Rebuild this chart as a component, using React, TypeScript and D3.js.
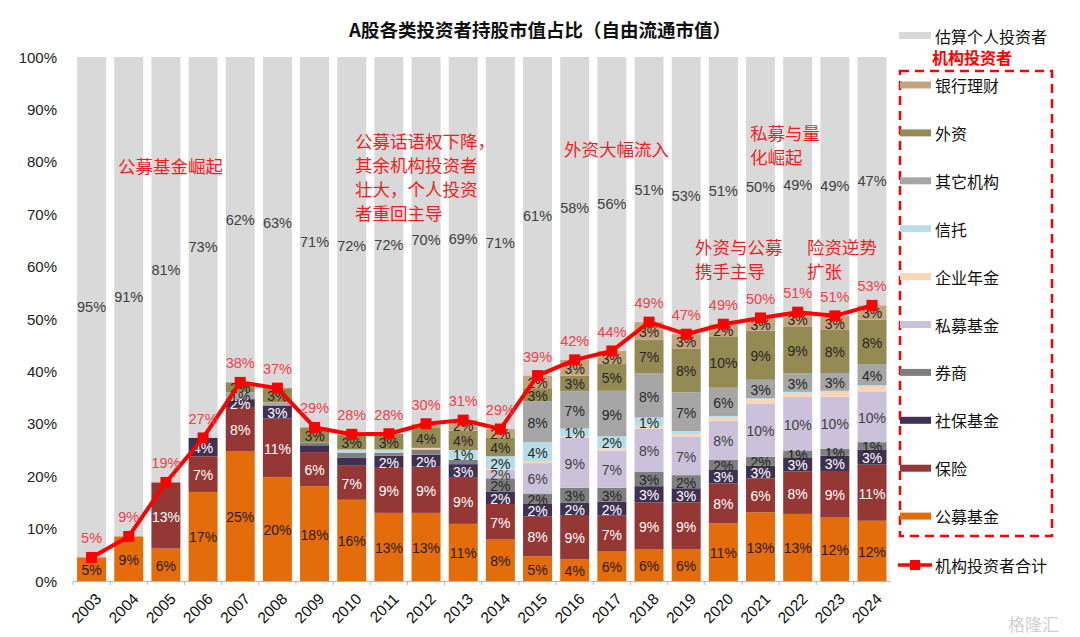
import { line, scaleBand, scaleLinear, stack } from "d3";

// 年份
const years = [
    "2003", "2004", "2005", "2006", "2007", "2008", "2009", "2010", "2011", "2012", "2013",
    "2014", "2015", "2016", "2017", "2018", "2019", "2020", "2021", "2022", "2023", "2024",
];

// 各类机构持股占比 (%)，按堆叠顺序从下到上
const fund = [4.5, 8.5, 6.2, 17.0, 24.7, 19.8, 18.1, 15.5, 13.0, 13.0, 10.9, 7.9, 4.7, 4.1, 5.6, 6.1, 6.1, 11.0, 13.1, 12.8, 12.1, 11.5];
const insurance = [0, 0, 12.6, 6.8, 8.5, 11.2, 6.5, 6.5, 8.6, 8.8, 8.8, 6.8, 7.6, 8.5, 6.9, 8.9, 8.9, 7.6, 6.5, 8.1, 8.9, 10.7];
const socialSecurity = [0, 0, 0, 3.5, 1.5, 2.5, 1.3, 1.5, 2.3, 2.3, 2.6, 2.4, 2.4, 2.3, 2.6, 3.1, 2.7, 2.7, 2.4, 2.7, 2.9, 2.9];
const broker = [0, 0, 0, 0, 0, 0, 0.5, 1.0, 0.6, 1.0, 0.8, 2.5, 2.0, 2.9, 2.7, 2.7, 2.5, 1.8, 1.7, 1.3, 1.3, 1.4];
const privateFund = [0, 0, 0, 0, 0, 0, 0, 0, 0, 0, 0, 1.6, 5.8, 9.5, 7.1, 8.3, 7.3, 7.5, 10.2, 10.2, 10.0, 9.7];
const pension = [0, 0, 0, 0, 0, 0, 0, 0, 0, 0.3, 0.2, 0.2, 0.4, 0.3, 0.4, 0.5, 0.5, 0.6, 0.8, 0.8, 0.9, 1.0];
const trust = [0, 0, 0, 0, 0, 0, 0, 0.6, 0.6, 0, 1.7, 2.4, 3.6, 1.5, 2.3, 1.6, 0.6, 0.3, 0.2, 0.2, 0.2, 0.2];
const otherInst = [0, 0, 0, 0, 1.3, 0.6, 0, 0, 0, 0, 0, 0, 7.8, 7.1, 8.7, 8.4, 7.4, 5.4, 3.5, 3.5, 3.4, 4.0];
const foreign = [0, 0, 0, 0, 1.9, 2.7, 2.9, 2.9, 3.0, 3.8, 3.7, 3.5, 2.5, 3.0, 5.1, 6.5, 8.4, 9.8, 9.4, 9.0, 8.2, 8.5];
const bankWm = [0, 0, 0, 0, 0, 0, 0, 0, 0, 0.8, 2.0, 1.7, 2.4, 3.0, 2.5, 3.3, 2.7, 2.3, 2.4, 2.7, 2.7, 2.7];

// 图上显示的数值标签 (null = 不显示)
const _ = null;
const fundLabels = [5, 9, 6, 17, 25, 20, 18, 16, 13, 13, 11, 8, 5, 4, 6, 6, 6, 11, 13, 13, 12, 12];
const insuranceLabels = [_, _, 13, 7, 8, 11, 6, 7, 9, 9, 9, 7, 8, 9, 7, 9, 9, 8, 6, 8, 9, 11];
const socialLabels = [_, _, _, 4, 2, 3, _, _, 2, 2, 3, 2, 2, 2, 2, 3, 3, 3, 3, 3, 3, 3];
const brokerLabels = [_, _, _, _, _, _, _, _, _, _, _, 2, 2, 3, 3, 3, 2, 2, 2, 1, 1, 1];
const privateLabels = [_, _, _, _, _, _, _, _, _, _, _, 2, 6, 9, 7, 8, 7, 8, 10, 10, 10, 10];
const pensionLabels = [_, _, _, _, _, _, _, _, _, _, _, _, _, _, _, _, _, _, _, _, _, _];
const trustLabels = [_, _, _, _, _, _, _, _, _, _, 1, 2, 4, 1, 2, 1, _, _, _, _, _, _];
const otherLabels = [_, _, _, _, 1, _, _, _, _, _, _, _, 8, 7, 9, 8, 7, 6, 3, 3, 3, 4];
const foreignLabels = [_, _, _, _, 2, 3, 3, 3, 3, 4, 4, 4, 3, 3, 5, 7, 8, 10, 9, 9, 8, 8];
const bankLabels = [_, _, _, _, _, _, _, _, _, _, 2, 2, 2, 3, 3, 3, 3, 2, 3, 3, 3, 3];
const personalLabels = [95, 91, 81, 73, 62, 63, 71, 72, 72, 70, 69, 71, 61, 58, 56, 51, 53, 51, 50, 49, 49, 47];
const totalLabels = [5, 9, 19, 27, 38, 37, 29, 28, 28, 30, 31, 29, 39, 42, 44, 49, 47, 49, 50, 51, 51, 53];

const yTicks = [0, 10, 20, 30, 40, 50, 60, 70, 80, 90, 100];

const series = [
    { key: "公募基金", values: fund, labels: fundLabels, color: "#E46C0A", text: "#2b1a0c" },
    { key: "保险", values: insurance, labels: insuranceLabels, color: "#953735", text: "#ffffff" },
    { key: "社保基金", values: socialSecurity, labels: socialLabels, color: "#403152", text: "#ffffff" },
    { key: "券商", values: broker, labels: brokerLabels, color: "#7F7F7F", text: "#262626" },
    { key: "私募基金", values: privateFund, labels: privateLabels, color: "#CCC1DA", text: "#404040" },
    { key: "企业年金", values: pension, labels: pensionLabels, color: "#FCD5B5", text: "#262626" },
    { key: "信托", values: trust, labels: trustLabels, color: "#B7DEE8", text: "#262626" },
    { key: "其它机构", values: otherInst, labels: otherLabels, color: "#A6A6A6", text: "#262626" },
    { key: "外资", values: foreign, labels: foreignLabels, color: "#948A54", text: "#262626" },
    { key: "银行理财", values: bankWm, labels: bankLabels, color: "#C4A47C", text: "#262626" },
];

const GRAY = "#D9D9D9";
const RED = "#FF0000";
const FONT = "'Liberation Sans', Arial, sans-serif";
const CJK = "'Noto Sans CJK SC', sans-serif";

function App() {
    const W = 1080;
    const H = 637;

    const x = scaleBand().domain(years).range([73, 890.6]).paddingInner(0.22).paddingOuter(0.11);
    const y = scaleLinear().domain([0, 100]).range([581, 57]);

    // 堆叠数据
    const rows = years.map((yr, i) => {
        const r: any = { year: yr };
        series.forEach((s) => (r[s.key] = s.values[i]));
        return r;
    });
    const stacked = stack<any>().keys(series.map((s) => s.key))(rows);
    const totals = years.map((_, i) => series.reduce((acc, s) => acc + s.values[i], 0));

    const bw = x.bandwidth();
    const cx = (yr: string) => (x(yr) as number) + bw / 2;

    const totalLine = line<number>()
        .x((_, i) => cx(years[i]))
        .y((d) => y(d));

    // 图例
    const legendItems = ["银行理财", "外资", "其它机构", "信托", "企业年金", "私募基金", "券商", "社保基金", "保险", "公募基金"];
    const legendY0 = 85;
    const legendStep = 47.9;

    return (
        <svg width={W} height={H} style={{ position: "absolute", left: 0, top: 0, background: "#fff" }}>
            {/* 标题 */}
            <text x={540} y={29} textAnchor="middle" dominantBaseline="central" fontFamily={CJK} fontWeight="bold" fontSize={18.5} fill="#111">
                A股各类投资者持股市值占比（自由流通市值）
            </text>

            {/* y 轴刻度 */}
            {yTicks.map((t) => (
                <text key={t} x={57} y={y(t)} textAnchor="end" dominantBaseline="central" fontFamily={FONT} fontSize={15} fill="#222">
                    {t}%
                </text>
            ))}

            {/* 个人投资者 (灰色背景柱) */}
            {years.map((yr, i) => (
                <rect key={"p" + yr} x={x(yr)} y={y(100)} width={bw} height={y(totals[i]) - y(100)} fill={GRAY} />
            ))}

            {/* 机构堆叠柱 */}
            {stacked.map((layer, si) => (
                <g key={layer.key}>
                    {layer.map((d, i) => (
                        <rect
                            key={years[i]}
                            x={x(years[i])}
                            y={y(d[1])}
                            width={bw}
                            height={Math.max(0, y(d[0]) - y(d[1]))}
                            fill={series[si].color}
                        />
                    ))}
                </g>
            ))}

            {/* x 轴 */}
            <line x1={73} x2={890.6} y1={581.5} y2={581.5} stroke="#A9B8CC" strokeWidth={1} />
            {years.map((yr) => (
                <line key={"t" + yr} x1={(x(yr) as number) - x.step() * 0.11} x2={(x(yr) as number) - x.step() * 0.11} y1={581.5} y2={585} stroke="#A9B8CC" />
            ))}
            {years.map((yr) => (
                <text
                    key={"xl" + yr}
                    transform={`translate(${cx(yr) + 7},${596}) rotate(-45)`}
                    textAnchor="end"
                    dominantBaseline="central"
                    fontFamily={FONT}
                    fontSize={15.5}
                    fill="#111"
                >
                    {yr}
                </text>
            ))}

            {/* 堆叠标签 */}
            {stacked.map((layer, si) => (
                <g key={"lab" + layer.key}>
                    {layer.map((d, i) => {
                        const lb = series[si].labels[i];
                        if (lb === null) return null;
                        return (
                            <text
                                key={years[i]}
                                x={cx(years[i])}
                                y={(y(d[0]) + y(d[1])) / 2 + 1}
                                textAnchor="middle"
                                dominantBaseline="central"
                                fontFamily={FONT}
                                fontSize={14}
                                fill={series[si].text}
                            >
                                {lb}%
                            </text>
                        );
                    })}
                </g>
            ))}

            {/* 个人投资者标签 */}
            {years.map((yr, i) => (
                <text
                    key={"pl" + yr}
                    x={cx(yr)}
                    y={(y(100) + y(totals[i])) / 2}
                    textAnchor="middle"
                    dominantBaseline="central"
                    fontFamily={FONT}
                    fontSize={14.5}
                    fill="#404040"
                >
                    {personalLabels[i]}%
                </text>
            ))}

            {/* 机构投资者合计折线 */}
            <path d={totalLine(totals) || ""} fill="none" stroke={RED} strokeWidth={4} strokeLinejoin="round" />
            {totals.map((t, i) => (
                <rect key={"m" + i} x={cx(years[i]) - 5.5} y={y(t) - 5.5} width={11} height={11} fill={RED} />
            ))}
            {totals.map((t, i) => (
                <text
                    key={"tl" + i}
                    x={cx(years[i])}
                    y={y(t) - 19}
                    textAnchor="middle"
                    dominantBaseline="central"
                    fontFamily={FONT}
                    fontSize={14.5}
                    fill="#F0404A"
                >
                    {totalLabels[i]}%
                </text>
            ))}

            {/* 注释 */}
            <g fontFamily={CJK} fontSize={17.5} fill="#F01E1E" dominantBaseline="central">
                <text x={118} y={165}>公募基金崛起</text>
                <text x={355} y={140}>公募话语权下降，</text>
                <text x={355} y={164}>其余机构投资者</text>
                <text x={355} y={188}>壮大，个人投资</text>
                <text x={355} y={212}>者重回主导</text>
                <text x={564} y={148}>外资大幅流入</text>
                <text x={750} y={132}>私募与量</text>
                <text x={750} y={156}>化崛起</text>
                <text x={695} y={246}>外资与公募</text>
                <text x={695} y={270}>携手主导</text>
                <text x={807} y={246}>险资逆势</text>
                <text x={807} y={270}>扩张</text>
            </g>

            {/* 图例 */}
            <rect x={899} y={32} width={32} height={7} fill={GRAY} />
            <text x={935} y={35.5} dominantBaseline="central" fontFamily={CJK} fontSize={16} fill="#111">估算个人投资者</text>
            <text x={932} y={57} dominantBaseline="central" fontFamily={CJK} fontSize={16} fontWeight="bold" fill={RED}>机构投资者</text>
            <rect x={900} y={71} width={152} height={465} fill="none" stroke={RED} strokeWidth={2.5} strokeDasharray="9,6" />
            {legendItems.map((k, i) => {
                const s = series.find((d) => d.key === k)!;
                const ly = legendY0 + i * legendStep;
                return (
                    <g key={"lg" + k}>
                        <rect x={900} y={ly - 3.5} width={31} height={7} fill={s.color} />
                        <text x={935} y={ly} dominantBaseline="central" fontFamily={CJK} fontSize={16} fill="#111">{k}</text>
                    </g>
                );
            })}
            <line x1={898} x2={932} y1={565} y2={565} stroke={RED} strokeWidth={3.5} />
            <rect x={910} y={560} width={10} height={10} fill={RED} />
            <text x={935} y={565} dominantBaseline="central" fontFamily={CJK} fontSize={16} fill="#111">机构投资者合计</text>

            {/* 水印 */}
            <text x={1008} y={623} dominantBaseline="central" fontFamily={CJK} fontSize={17} fill="#D0D0D0">格隆汇</text>
        </svg>
    );
}

export default App;
